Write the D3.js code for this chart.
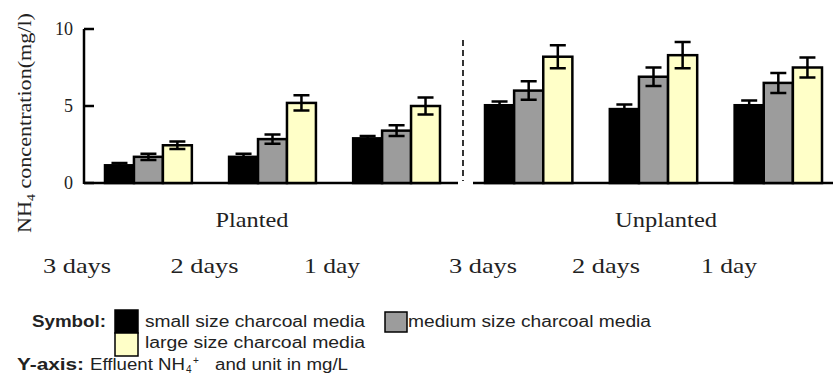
<!DOCTYPE html>
<html>
<head>
<meta charset="utf-8">
<script src="https://cdn.jsdelivr.net/npm/d3@7"></script>
<style>
  body { margin: 0; background: #fff; }
  svg { display: block; }
  .serif { font-family: 'Liberation Serif', 'Times New Roman', serif; fill: #222; }
  .sans { font-family: 'Liberation Sans', Arial, sans-serif; fill: #222; }
</style>
</head>
<body>
<div id="chart"></div>
<script>
const groups = ['Planted', 'Unplanted']
const days = ['3 days', '2 days', '1 day']
const series = ['small size charcoal media', 'medium size charcoal media', 'large size charcoal media']
// values per bar, Planted 3/2/1 day then Unplanted 3/2/1 day
const small = [1.15, 1.7, 2.9, 5.05, 4.8, 5.05]
const medium = [1.7, 2.85, 3.4, 6.0, 6.9, 6.5]
const large = [2.45, 5.2, 5.0, 8.2, 8.3, 7.5]
const smallErr = [0.15, 0.2, 0.15, 0.25, 0.3, 0.3]
const mediumErr = [0.2, 0.3, 0.35, 0.6, 0.6, 0.65]
const largeErr = [0.25, 0.5, 0.55, 0.75, 0.85, 0.65]
const yTicks = [0, 5, 10]

const width = 833, height = 376
const colors = ['#000000', '#9c9c9c', '#ffffc8']

const svg = d3.select('#chart')
              .append('svg')
              .attr('width', width)
              .attr('height', height)

const y = d3.scaleLinear()
            .domain([0, 10])
            .range([183, 29])

// one band scale per panel
const panelRange = { Planted: [105, 440], Unplanted: [485, 822] }
const labelRange = { Planted: [77, 332], Unplanted: [483, 729] }
const titleX = d3.scalePoint().domain(groups).range([252, 666])

const rows = []
groups.forEach((g, gi) => {
  days.forEach((d, di) => {
    const i = gi * 3 + di
    rows.push({ group: g, day: d, vals: [small[i], medium[i], large[i]], errs: [smallErr[i], mediumErr[i], largeErr[i]] })
  })
})

// axes lines
svg.append('line')
   .attr('x1', 84).attr('x2', 84)
   .attr('y1', y(10)).attr('y2', y(0) + 1)
   .attr('stroke', '#000').attr('stroke-width', 2.5)

svg.selectAll('.ytick')
   .data(yTicks)
   .enter()
   .append('line')
   .attr('x1', 84).attr('x2', 94)
   .attr('y1', d => y(d)).attr('y2', d => y(d))
   .attr('stroke', '#000').attr('stroke-width', 2.5)

svg.selectAll('.ylab')
   .data(yTicks)
   .enter()
   .append('text')
   .attr('class', 'serif')
   .attr('x', 73)
   .attr('y', d => y(d) + 6)
   .attr('text-anchor', 'end')
   .attr('font-size', '18px')
   .attr('fill', '#333')
   .text(d => d)

svg.append('line')
   .attr('x1', 84).attr('x2', 458)
   .attr('y1', y(0)).attr('y2', y(0))
   .attr('stroke', '#000').attr('stroke-width', 2.5)
svg.append('line')
   .attr('x1', 473).attr('x2', width)
   .attr('y1', y(0)).attr('y2', y(0))
   .attr('stroke', '#000').attr('stroke-width', 2.5)

svg.append('line')
   .attr('x1', 463).attr('x2', 463)
   .attr('y1', 40).attr('y2', y(0) - 2)
   .attr('stroke', '#000').attr('stroke-width', 1.6)
   .attr('stroke-dasharray', '6,4')

groups.forEach(g => {
  const x0 = d3.scaleBand().domain(days).range(panelRange[g]).paddingInner(0.3)
  const x1 = d3.scaleBand().domain(d3.range(3)).range([0, x0.bandwidth()])
  const lx = d3.scalePoint().domain(days).range(labelRange[g])

  const grp = svg.append('g')
  const cells = grp.selectAll('.cell')
                   .data(rows.filter(r => r.group === g))
                   .enter()
                   .append('g')
                   .attr('transform', d => 'translate(' + x0(d.day) + ',0)')

  const bars = cells.selectAll('.bar')
                    .data(d => d.vals.map((v, k) => ({ k: k, v: v, e: d.errs[k] })))
                    .enter()
                    .append('g')

  bars.append('rect')
      .attr('x', d => x1(d.k))
      .attr('y', d => y(d.v))
      .attr('width', x1.bandwidth())
      .attr('height', d => y(0) - y(d.v))
      .attr('fill', d => colors[d.k])
      .attr('stroke', '#000')
      .attr('stroke-width', 2.5)

  bars.append('path')
      .attr('d', d => {
        const cx = x1(d.k) + x1.bandwidth() / 2
        const t = y(d.v + d.e), b = y(d.v - d.e)
        return 'M' + (cx - 8) + ',' + t + 'H' + (cx + 8) +
               'M' + cx + ',' + t + 'V' + b +
               'M' + (cx - 8) + ',' + b + 'H' + (cx + 8)
      })
      .attr('stroke', '#000')
      .attr('stroke-width', 2.5)
      .attr('fill', 'none')

  svg.selectAll('.daylab-' + g)
     .data(days)
     .enter()
     .append('text')
     .attr('class', 'serif')
     .attr('x', d => lx(d))
     .attr('y', 273)
     .attr('text-anchor', 'middle')
     .attr('font-size', '21px')
     .attr('textLength', d => d.length > 5 ? 68 : 56)
     .attr('lengthAdjust', 'spacingAndGlyphs')
     .text(d => d)

  svg.append('text')
     .attr('class', 'serif')
     .attr('x', titleX(g))
     .attr('y', 227)
     .attr('text-anchor', 'middle')
     .attr('font-size', '21px')
     .attr('textLength', g === 'Planted' ? 73 : 102)
     .attr('lengthAdjust', 'spacingAndGlyphs')
     .text(g)
})

// y axis title
const yTitle = svg.append('text')
                  .attr('class', 'serif')
                  .attr('transform', 'translate(31,233) rotate(-90)')
                  .attr('font-size', '19px')
                  .attr('textLength', 220)
                  .attr('lengthAdjust', 'spacingAndGlyphs')
yTitle.append('tspan').text('NH')
yTitle.append('tspan').attr('font-size', '12px').attr('dy', 4).text('4')
yTitle.append('tspan').attr('dy', -4).text(' concentration(mg/l)')

// legend
const legend = svg.append('g').attr('class', 'legend')

legend.append('text')
      .attr('class', 'sans')
      .attr('x', 32).attr('y', 327)
      .attr('font-size', '16px').attr('font-weight', 'bold')
      .attr('textLength', 74)
      .attr('lengthAdjust', 'spacingAndGlyphs')
      .text('Symbol:')

const legendPos = [[115, 310, 145, 327], [385, 312, 408, 327], [115, 333, 145, 348]]
series.forEach((s, k) => {
  const p = legendPos[k]
  legend.append('rect')
        .attr('x', p[0]).attr('y', p[1])
        .attr('width', k === 1 ? 22 : 23).attr('height', k === 1 ? 20 : 23)
        .attr('fill', colors[k])
        .attr('stroke', '#000').attr('stroke-width', 1.5)
  legend.append('text')
        .attr('class', 'sans')
        .attr('x', p[2]).attr('y', p[3])
        .attr('font-size', '16px')
        .attr('textLength', k === 1 ? 243 : 220)
        .attr('lengthAdjust', 'spacingAndGlyphs')
        .text(s)
})

// y-axis note, placed piece by piece to match widths
const notePieces = [
  { t: 'Y-axis:', x: 17, len: 67, bold: true },
  { t: 'Effluent NH', x: 90, len: 95 },
  { t: 'and unit in mg/L', x: 215, len: 133 }
]
notePieces.forEach(p => {
  legend.append('text')
        .attr('class', 'sans')
        .attr('x', p.x).attr('y', 370)
        .attr('font-size', '16px')
        .attr('font-weight', p.bold ? 'bold' : 'normal')
        .attr('textLength', p.len)
        .attr('lengthAdjust', 'spacingAndGlyphs')
        .text(p.t)
})
legend.append('text')
      .attr('class', 'sans')
      .attr('x', 186).attr('y', 373)
      .attr('font-size', '10px')
      .text('4')
legend.append('text')
      .attr('class', 'sans')
      .attr('x', 193).attr('y', 364)
      .attr('font-size', '10px')
      .text('+')
</script>
</body>
</html>
